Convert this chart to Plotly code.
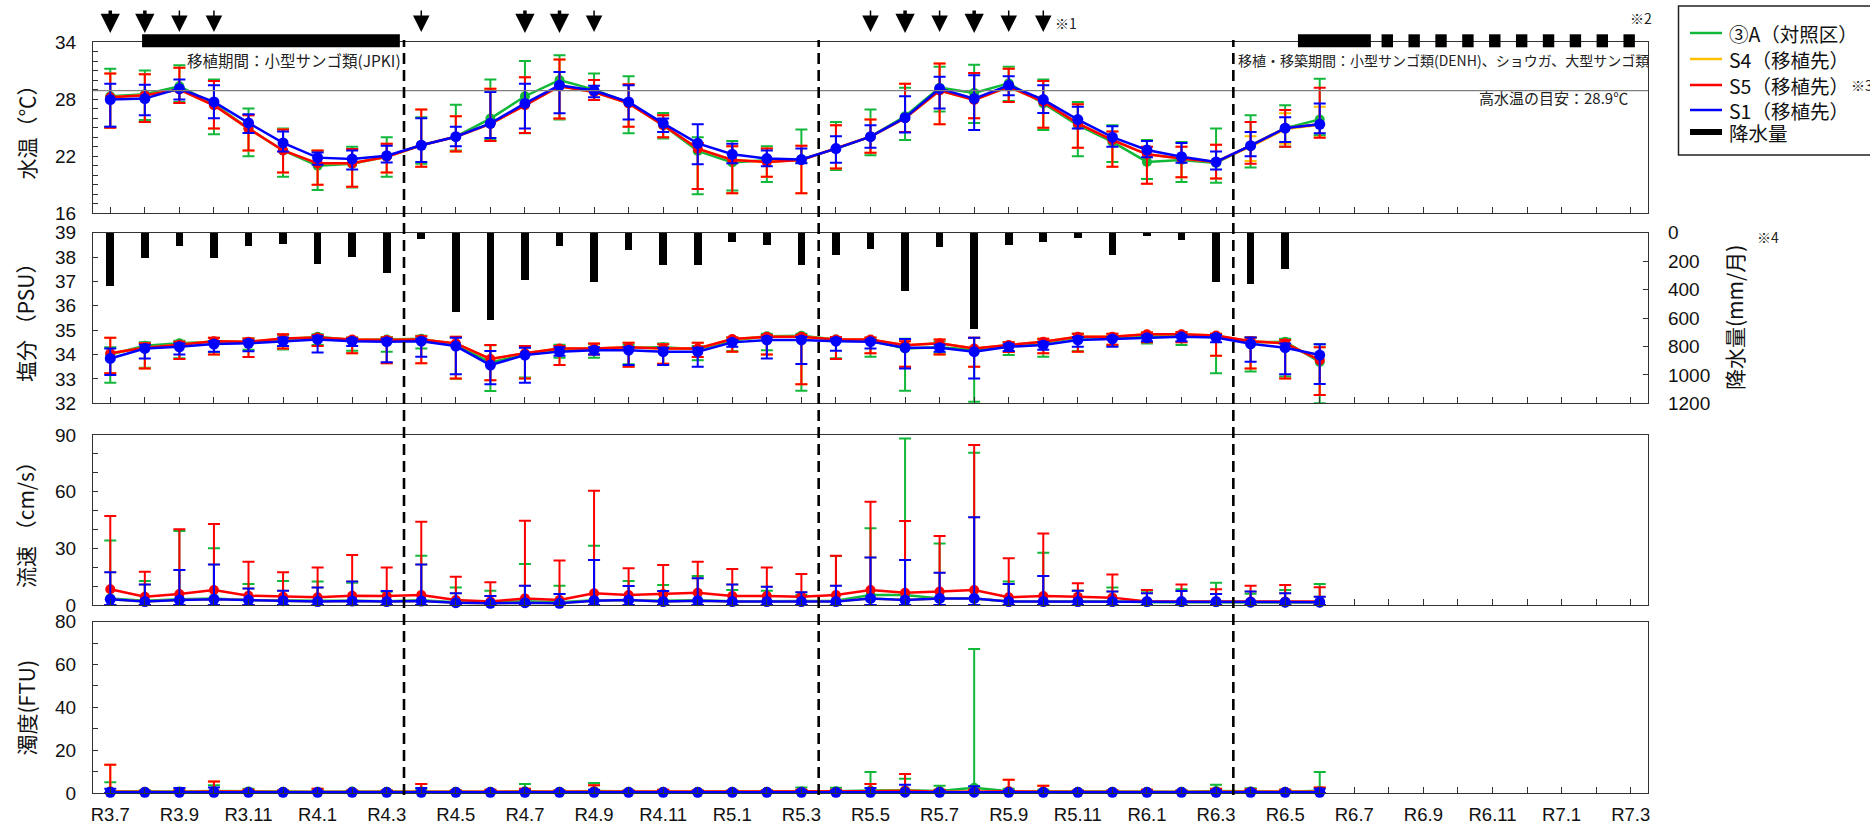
import plotly.graph_objects as go

# ---------------- data ----------------
months = ["R3.7", "R3.8", "R3.9", "R3.10", "R3.11", "R3.12",
          "R4.1", "R4.2", "R4.3", "R4.4", "R4.5", "R4.6", "R4.7", "R4.8", "R4.9", "R4.10", "R4.11", "R4.12",
          "R5.1", "R5.2", "R5.3", "R5.4", "R5.5", "R5.6", "R5.7", "R5.8", "R5.9", "R5.10", "R5.11", "R5.12",
          "R6.1", "R6.2", "R6.3", "R6.4", "R6.5", "R6.6", "R6.7", "R6.8", "R6.9", "R6.10", "R6.11", "R6.12",
          "R7.1", "R7.2", "R7.3"]
tick_labels = ["R3.7", "R3.9", "R3.11", "R4.1", "R4.3", "R4.5", "R4.7", "R4.9", "R4.11", "R5.1", "R5.3",
               "R5.5", "R5.7", "R5.9", "R5.11", "R6.1", "R6.3", "R6.5", "R6.7", "R6.9", "R6.11", "R7.1", "R7.3"]
obs_months = months[:36]
rain_months = months[:35]

# water temperature (deg C): mean / max / min
temp_A = [28.3, 28.5, 29.35, 27.5, 24.9, 22.6, 21.0, 21.2, 21.95, 23.15, 24.05, 25.95, 28.3, 30.0, 29.0, 27.6, 25.25, 22.55,
          21.35, 21.6, 21.65, 22.8, 24.05, 26.2, 29.2, 28.65, 29.65, 27.55, 25.25, 23.5, 21.4, 21.6, 21.3, 23.1, 24.95, 25.85]
temp_A_hi = [31.2, 31.0, 31.55, 30.05, 27.0, 24.9, 22.5, 23.0, 24.0, 26.1, 27.4, 30.05, 32.0, 32.6, 30.7, 30.4, 26.55, 24.0,
             23.6, 23.05, 24.8, 25.6, 26.9, 29.2, 31.4, 31.6, 31.4, 30.05, 27.7, 25.25, 23.7, 23.5, 24.9, 26.3, 27.35, 30.15]
temp_A_lo = [25.1, 25.8, 27.7, 24.3, 22.0, 19.85, 18.45, 18.7, 19.85, 21.2, 22.6, 23.7, 24.4, 25.85, 27.9, 24.4, 23.85, 18.0,
             18.4, 19.3, 21.3, 20.55, 22.1, 23.7, 26.7, 25.5, 27.8, 24.75, 22.0, 21.4, 19.6, 19.3, 19.2, 20.8, 23.0, 24.2]
temp_S4 = [28.2, 28.4, 29.0, 27.35, 24.9, 22.6, 21.25, 21.25, 21.95, 23.15, 24.05, 25.4, 27.35, 29.35, 28.75, 27.55, 25.25, 22.8,
           21.6, 21.4, 21.6, 22.8, 24.05, 26.0, 28.9, 27.9, 29.3, 27.7, 25.45, 23.7, 22.2, 21.75, 21.4, 23.0, 24.85, 25.3]
temp_S4_hi = [30.7, 30.6, 31.3, 29.9, 26.3, 24.8, 22.6, 22.75, 23.3, 26.9, 26.2, 29.1, 30.3, 32.15, 30.0, 29.55, 26.3, 23.4,
              23.05, 22.8, 23.1, 25.25, 25.85, 29.6, 31.75, 30.75, 31.2, 29.9, 27.45, 24.6, 23.0, 23.0, 23.2, 24.1, 26.5, 27.2]
temp_S4_lo = [25.0, 25.6, 27.6, 24.9, 22.6, 20.3, 19.0, 18.8, 20.3, 20.9, 22.5, 23.6, 24.45, 25.95, 27.9, 25.1, 24.0, 18.55,
              18.1, 19.85, 18.1, 20.7, 22.35, 24.55, 25.35, 26.0, 27.7, 25.0, 22.9, 20.9, 19.1, 19.8, 19.65, 21.5, 23.3, 24.0]
temp_S5 = [28.2, 28.4, 29.0, 27.35, 24.9, 22.6, 21.25, 21.25, 21.95, 23.15, 24.05, 25.4, 27.35, 29.35, 28.75, 27.55, 25.25, 22.8,
           21.6, 21.4, 21.6, 22.8, 24.05, 26.0, 28.9, 27.9, 29.3, 27.7, 25.45, 23.7, 22.2, 21.75, 21.4, 23.1, 24.95, 25.35]
temp_S5_hi = [30.7, 30.6, 31.3, 29.9, 26.3, 24.8, 22.6, 22.75, 23.3, 26.9, 26.2, 29.1, 30.3, 32.15, 30.0, 29.55, 26.3, 23.4,
              23.05, 22.8, 23.1, 25.25, 25.85, 29.6, 31.75, 30.75, 31.2, 29.9, 27.45, 24.6, 23.0, 23.0, 23.2, 25.6, 26.85, 29.2]
temp_S5_lo = [25.0, 25.6, 27.6, 24.9, 22.6, 20.3, 19.0, 18.8, 20.3, 20.9, 22.5, 23.6, 24.45, 25.95, 27.9, 25.1, 24.0, 18.55,
              18.1, 19.85, 18.1, 20.7, 22.35, 24.55, 25.35, 26.0, 27.7, 25.0, 22.9, 20.9, 19.1, 19.8, 19.65, 21.2, 23.0, 23.95]
temp_S1 = [27.95, 28.05, 29.1, 27.7, 25.5, 23.4, 21.85, 21.7, 22.05, 23.15, 24.05, 25.45, 27.55, 29.45, 28.9, 27.7, 25.45, 23.35,
           22.2, 21.75, 21.65, 22.8, 24.05, 26.05, 29.1, 28.05, 29.45, 27.95, 25.85, 24.0, 22.65, 21.95, 21.4, 23.1, 24.95, 25.35]
temp_S1_hi = [29.6, 29.5, 30.05, 29.45, 26.4, 24.6, 22.4, 22.6, 23.1, 26.0, 25.1, 28.75, 29.6, 30.85, 29.4, 29.45, 25.95, 25.35,
              23.3, 22.6, 22.8, 24.1, 25.25, 28.3, 30.35, 30.5, 30.4, 29.45, 27.2, 25.15, 23.6, 23.4, 22.5, 24.55, 26.1, 27.55]
temp_S1_lo = [25.1, 26.3, 27.95, 26.0, 24.45, 22.5, 21.1, 20.6, 21.35, 21.4, 23.05, 23.9, 24.9, 26.5, 28.2, 25.85, 24.55, 21.15,
              21.25, 20.95, 21.25, 21.3, 22.9, 24.5, 27.0, 24.75, 28.4, 26.55, 24.9, 23.0, 21.9, 21.3, 20.6, 22.0, 23.5, 24.4]
temp_guide = 28.9

# salinity (PSU): mean / max / min
sal_A = [34.0, 34.36, 34.46, 34.53, 34.5, 34.62, 34.73, 34.6, 34.62, 34.65, 34.4, 33.68, 34.0, 34.2, 34.22, 34.28, 34.3, 34.22,
         34.58, 34.75, 34.77, 34.62, 34.58, 34.25, 34.3, 34.2, 34.36, 34.48, 34.7, 34.7, 34.76, 34.77, 34.75, 34.5, 34.53, 33.7]
sal_A_hi = [34.3, 34.5, 34.57, 34.68, 34.66, 34.8, 34.83, 34.7, 34.72, 34.77, 34.72, 34.38, 34.3, 34.4, 34.42, 34.4, 34.45, 34.35,
            34.7, 34.85, 34.85, 34.72, 34.68, 34.65, 34.55, 34.68, 34.5, 34.62, 34.85, 34.82, 34.9, 34.88, 34.82, 34.7, 34.65, 34.42]
sal_A_lo = [32.84, 33.46, 33.85, 34.1, 34.2, 34.21, 34.39, 34.16, 34.12, 34.25, 33.0, 32.5, 33.06, 33.87, 33.87, 33.6, 33.6, 33.77,
            34.15, 34.18, 32.52, 33.85, 33.91, 32.52, 34.05, 32.06, 33.98, 33.91, 34.15, 34.35, 34.45, 34.39, 33.23, 33.3, 33.1, 32.0]
sal_S4 = [34.05, 34.28, 34.4, 34.55, 34.53, 34.66, 34.7, 34.62, 34.6, 34.62, 34.46, 33.82, 34.05, 34.25, 34.25, 34.3, 34.25, 34.25,
          34.64, 34.73, 34.73, 34.62, 34.62, 34.38, 34.46, 34.25, 34.39, 34.53, 34.73, 34.73, 34.83, 34.83, 34.78, 34.55, 34.46, 33.77]
sal_S4_hi = [34.69, 34.46, 34.53, 34.69, 34.66, 34.83, 34.8, 34.69, 34.7, 34.75, 34.73, 34.39, 34.35, 34.35, 34.45, 34.48, 34.42, 34.48,
             34.7, 34.8, 34.8, 34.72, 34.7, 34.55, 34.62, 34.69, 34.5, 34.65, 34.85, 34.85, 34.9, 34.93, 34.85, 34.7, 34.6, 34.3]
sal_S4_lo = [33.23, 33.43, 33.82, 34.0, 33.9, 34.25, 34.35, 34.05, 33.64, 33.64, 33.02, 32.95, 33.02, 33.57, 34.0, 33.5, 33.62, 33.9,
             34.12, 34.0, 32.78, 33.82, 34.05, 33.5, 34.0, 33.5, 34.1, 34.05, 34.12, 34.4, 34.5, 34.5, 33.95, 33.43, 33.02, 32.34]
sal_S5 = [34.05, 34.28, 34.4, 34.55, 34.53, 34.66, 34.7, 34.62, 34.6, 34.62, 34.46, 33.82, 34.05, 34.25, 34.25, 34.3, 34.25, 34.25,
          34.64, 34.73, 34.73, 34.62, 34.62, 34.38, 34.46, 34.25, 34.39, 34.53, 34.73, 34.73, 34.83, 34.83, 34.78, 34.55, 34.46, 33.77]
sal_S5_hi = [34.69, 34.46, 34.53, 34.69, 34.66, 34.83, 34.8, 34.69, 34.7, 34.75, 34.73, 34.39, 34.35, 34.35, 34.45, 34.48, 34.42, 34.48,
             34.7, 34.8, 34.8, 34.72, 34.7, 34.55, 34.62, 34.69, 34.5, 34.65, 34.85, 34.85, 34.9, 34.93, 34.85, 34.7, 34.6, 34.3]
sal_S5_lo = [33.23, 33.43, 33.82, 34.0, 33.9, 34.25, 34.35, 34.05, 33.64, 33.64, 33.02, 32.95, 33.02, 33.57, 34.0, 33.5, 33.62, 33.9,
             34.12, 34.0, 32.78, 33.82, 34.05, 33.5, 34.0, 33.5, 34.1, 34.05, 34.12, 34.4, 34.5, 34.5, 33.95, 33.43, 33.02, 32.34]
sal_S1 = [33.84, 34.25, 34.32, 34.43, 34.46, 34.55, 34.62, 34.55, 34.53, 34.55, 34.35, 33.57, 33.98, 34.12, 34.18, 34.18, 34.12, 34.12,
          34.5, 34.6, 34.6, 34.55, 34.53, 34.28, 34.28, 34.12, 34.32, 34.39, 34.6, 34.64, 34.69, 34.73, 34.7, 34.44, 34.28, 33.98]
sal_S1_hi = [34.25, 34.4, 34.45, 34.55, 34.58, 34.7, 34.75, 34.65, 34.65, 34.65, 34.69, 34.15, 34.28, 34.3, 34.3, 34.3, 34.28, 34.28,
             34.6, 34.7, 34.72, 34.65, 34.6, 34.64, 34.4, 34.69, 34.42, 34.5, 34.72, 34.72, 34.78, 34.8, 34.8, 34.7, 34.45, 34.42]
sal_S1_lo = [33.16, 33.84, 34.0, 34.12, 34.14, 34.35, 34.08, 34.35, 33.68, 33.91, 33.19, 32.78, 32.84, 33.95, 34.0, 33.57, 33.57, 33.5,
             34.32, 33.84, 33.61, 34.16, 34.25, 33.43, 34.12, 33.02, 34.15, 34.2, 34.32, 34.32, 34.55, 34.55, 34.5, 33.7, 33.19, 32.79]

# monthly precipitation (mm)
rain = [373, 176, 94, 173, 91, 77, 216, 169, 279, 40, 556, 614, 328, 94, 345, 122, 223, 223,
        63, 82, 223, 152, 115, 410, 98, 673, 87, 63, 35, 152, 23, 52, 345, 356, 251]

# current speed (cm/s): mean / max (min is 0)
flow_A = [3.5, 2.2, 3.0, 3.5, 2.5, 2.2, 2.2, 2.2, 2.0, 2.5, 1.5, 1.3, 2.0, 1.5, 2.5, 2.5, 2.2, 2.5,
          2.0, 2.0, 2.0, 2.2, 5.3, 5.3, 3.5, 3.5, 1.8, 2.0, 2.0, 2.0, 1.5, 1.5, 1.5, 1.3, 1.3, 1.3]
flow_A_hi = [34.1, 12.7, 39.2, 30.0, 11.1, 12.7, 12.4, 11.8, 7.0, 26.1, 9.2, 7.6, 21.7, 10.2, 31.4, 12.7, 10.6, 15.4,
             7.9, 7.6, 5.3, 25.9, 40.6, 88.2, 32.6, 80.6, 12.4, 27.7, 7.6, 9.2, 7.6, 8.3, 11.8, 6.0, 7.9, 11.1]
flow_S4 = [3.0, 1.8, 2.6, 3.0, 2.6, 2.3, 1.8, 2.1, 1.8, 2.1, 1.2, 0.9, 1.2, 0.9, 2.3, 2.6, 1.8, 2.3,
           1.8, 1.8, 1.8, 1.8, 3.5, 2.6, 3.5, 3.5, 1.8, 1.8, 1.8, 1.8, 1.8, 1.8, 1.8, 1.5, 1.5, 1.5]
flow_S4_hi = [17.3, 10.9, 18.5, 21.5, 8.8, 7.6, 9.2, 12.4, 7.4, 21.5, 6.2, 4.8, 10.2, 5.8, 23.8, 10.1, 7.4, 14.1,
              10.9, 9.7, 6.7, 10.2, 25.1, 23.8, 17.1, 46.4, 11.1, 15.4, 7.6, 7.1, 6.2, 7.4, 5.8, 7.1, 6.2, 4.4]
flow_S5 = [8.3, 4.4, 5.8, 7.9, 4.9, 4.4, 4.1, 4.9, 4.8, 5.3, 2.6, 1.8, 3.5, 2.6, 6.2, 5.3, 5.8, 6.5,
           4.8, 4.8, 4.4, 5.3, 7.9, 6.5, 7.1, 7.9, 4.1, 4.8, 4.4, 3.9, 1.8, 1.8, 1.8, 1.8, 1.8, 1.8]
flow_S5_hi = [47.1, 17.6, 40.1, 42.9, 22.9, 17.3, 19.8, 26.5, 19.8, 44.1, 15.0, 12.0, 44.6, 23.5, 60.5, 19.4, 21.2, 22.9,
              19.1, 19.8, 16.4, 26.1, 54.7, 44.5, 36.5, 84.7, 24.7, 37.9, 11.5, 16.2, 7.9, 10.9, 8.3, 10.2, 10.6, 9.4]
flow_S1 = [3.0, 1.8, 2.6, 3.0, 2.6, 2.3, 1.8, 2.1, 1.8, 2.1, 1.2, 0.9, 1.2, 0.9, 2.3, 2.6, 1.8, 2.3,
           1.8, 1.8, 1.8, 1.8, 3.5, 2.6, 3.5, 3.5, 1.8, 1.8, 1.8, 1.8, 1.8, 1.8, 1.8, 1.5, 1.5, 1.5]
flow_S1_hi = [17.3, 10.9, 18.5, 21.5, 8.8, 7.6, 9.2, 12.4, 7.4, 21.5, 6.2, 4.8, 10.2, 5.8, 23.8, 10.1, 7.4, 14.1,
              10.9, 9.7, 6.7, 10.2, 25.1, 23.8, 17.1, 46.4, 11.1, 15.4, 7.6, 7.1, 6.2, 7.4, 5.8, 7.1, 6.2, 4.4]

# turbidity (FTU): mean / max (min is 0)
turb_A = [0.8, 0.6, 0.7, 0.9, 0.7, 0.6, 0.6, 0.7, 0.6, 0.7, 0.6, 0.6, 0.8, 0.6, 0.9, 0.6, 0.6, 0.6,
          0.6, 0.6, 0.7, 0.8, 1.2, 1.3, 0.9, 2.4, 0.8, 0.7, 0.6, 0.6, 0.6, 0.6, 0.9, 0.7, 0.6, 1.0]
turb_A_hi = [5.0, 1.2, 1.5, 3.6, 2.0, 1.2, 1.5, 1.2, 1.2, 1.5, 1.2, 1.2, 4.2, 1.2, 4.7, 1.2, 1.2, 1.2,
             1.2, 1.2, 2.6, 2.5, 9.8, 6.7, 3.4, 67.2, 2.0, 1.5, 1.2, 1.2, 1.2, 1.2, 3.9, 2.2, 1.5, 9.8]
turb_S4 = [0.6, 0.5, 0.5, 0.7, 0.5, 0.5, 0.5, 0.5, 0.5, 0.6, 0.5, 0.5, 0.6, 0.5, 0.7, 0.5, 0.5, 0.5,
           0.5, 0.5, 0.5, 0.5, 0.8, 1.0, 0.6, 0.6, 0.8, 0.6, 0.5, 0.5, 0.5, 0.5, 0.6, 0.6, 0.5, 0.6]
turb_S4_hi = [13.2, 1.0, 1.2, 5.4, 1.5, 1.2, 2.0, 1.2, 1.2, 4.2, 1.2, 1.5, 2.0, 1.2, 3.6, 1.2, 1.5, 1.2,
              1.2, 1.2, 1.5, 1.5, 4.2, 8.9, 1.5, 1.5, 6.2, 3.4, 1.2, 1.2, 1.5, 1.2, 2.0, 1.8, 1.5, 2.6]
turb_S5 = [0.6, 0.5, 0.5, 0.7, 0.5, 0.5, 0.5, 0.5, 0.5, 0.6, 0.5, 0.5, 0.6, 0.5, 0.7, 0.5, 0.5, 0.5,
           0.5, 0.5, 0.5, 0.5, 0.8, 1.0, 0.6, 0.6, 0.8, 0.6, 0.5, 0.5, 0.5, 0.5, 0.6, 0.6, 0.5, 0.6]
turb_S5_hi = [13.2, 1.0, 1.2, 5.4, 1.5, 1.2, 2.0, 1.2, 1.2, 4.2, 1.2, 1.5, 2.0, 1.2, 3.6, 1.2, 1.5, 1.2,
              1.2, 1.2, 1.5, 1.5, 4.2, 8.9, 1.5, 1.5, 6.2, 3.4, 1.2, 1.2, 1.5, 1.2, 2.0, 1.8, 1.5, 2.6]
turb_S1 = [0.3, 0.3, 0.3, 0.3, 0.3, 0.3, 0.3, 0.3, 0.3, 0.3, 0.3, 0.3, 0.3, 0.3, 0.3, 0.3, 0.3, 0.3,
           0.3, 0.3, 0.3, 0.3, 0.3, 0.4, 0.3, 0.4, 0.3, 0.3, 0.3, 0.3, 0.3, 0.3, 0.3, 0.3, 0.3, 0.3]
turb_S1_hi = [2.0, 0.8, 2.3, 2.6, 0.8, 0.8, 0.8, 0.8, 0.8, 2.3, 0.8, 0.8, 1.2, 0.8, 1.5, 0.8, 0.8, 0.8,
              0.8, 0.8, 1.0, 1.0, 2.3, 3.9, 1.0, 3.1, 1.0, 0.8, 0.8, 0.8, 0.8, 0.8, 1.2, 1.2, 0.8, 2.0]

# survey events / periods
arrow_big = ["R3.7", "R3.8", "R4.7", "R4.8", "R5.6", "R5.8"]
arrow_small = ["R3.9", "R3.10", "R4.4", "R4.9", "R5.5", "R5.7", "R5.9", "R5.10"]
period_solid = [(0.92, 8.38), (34.37, 36.48)]
period_dashed = (36.79, 44.12)
split_lines = [8.5, 20.5, 32.5]

series_names = ["③A（対照区）", "S4（移植先）", "S5（移植先）", "S1（移植先）"]
series_colors = ["#12b83a", "#ffc000", "#ff0000", "#0000ff"]

# ---------------- figure ----------------
W, H = 1870, 827
ML, MR, MT, MB = 93, 222, 42, 34
PW, PH = W - ML - MR, H - MT - MB


def px(x):  # pixel -> paper x
    return (x - ML) / PW


def py(y):  # pixel -> paper y
    return (H - MB - y) / PH


fig = go.Figure()

TICKFONT = dict(family="Liberation Sans, Arial, sans-serif", size=19, color="#111")
JP = "Noto Sans CJK JP, sans-serif"


def add_series(y, hi, lo, color, xa, ya, size, clip=True):
    fig.add_trace(go.Scatter(
        x=obs_months, y=y, mode="lines+markers", xaxis=xa, yaxis=ya,
        line=dict(color=color, width=2.5),
        marker=dict(color=color, size=size, symbol="circle"),
        error_y=dict(type="data", symmetric=False,
                     array=[h - v for h, v in zip(hi, y)],
                     arrayminus=[v - l for v, l in zip(y, lo)],
                     color=color, thickness=2, width=6),
        cliponaxis=clip, showlegend=False, hoverinfo="skip"))


# precipitation bars (salinity panel, right axis)
fig.add_trace(go.Bar(x=rain_months, y=rain, xaxis="x2", yaxis="y3", width=0.22,
                     marker=dict(color="black", line=dict(width=0)), showlegend=False))

temp_sets = [(temp_A, temp_A_hi, temp_A_lo), (temp_S4, temp_S4_hi, temp_S4_lo),
             (temp_S5, temp_S5_hi, temp_S5_lo), (temp_S1, temp_S1_hi, temp_S1_lo)]
sal_sets = [(sal_A, sal_A_hi, sal_A_lo), (sal_S4, sal_S4_hi, sal_S4_lo),
            (sal_S5, sal_S5_hi, sal_S5_lo), (sal_S1, sal_S1_hi, sal_S1_lo)]
flow_sets = [(flow_A, flow_A_hi), (flow_S4, flow_S4_hi), (flow_S5, flow_S5_hi), (flow_S1, flow_S1_hi)]
turb_sets = [(turb_A, turb_A_hi), (turb_S4, turb_S4_hi), (turb_S5, turb_S5_hi), (turb_S1, turb_S1_hi)]
sizes = [10, 9, 10, 11]

for (y, hi, lo), c, s in zip(temp_sets, series_colors, sizes):
    add_series(y, hi, lo, c, "x", "y", s)
for (y, hi, lo), c, s in zip(sal_sets, series_colors, sizes):
    add_series(y, hi, lo, c, "x2", "y2", s)
for (y, hi), c, s in zip(flow_sets, series_colors, sizes):
    add_series(y, hi, [0] * len(y), c, "x3", "y4", s, clip=False)
for (y, hi), c, s in zip(turb_sets, series_colors, sizes):
    add_series(y, hi, [0] * len(y), c, "x4", "y5", s, clip=False)

LINEC = "#333"
ticktext_all = [m if m in tick_labels else "" for m in months]
xcommon = dict(type="category", categoryorder="array", categoryarray=months, range=[-0.5, 44.5],
               tickmode="array", tickvals=months, ticks="inside", ticklen=6, tickcolor=LINEC,
               showline=True, linecolor=LINEC, linewidth=1.3, mirror=True, showgrid=False, zeroline=False,
               fixedrange=True, automargin=False)
ycommon = dict(ticks="inside", ticklen=5, tickcolor=LINEC, showline=True, linecolor=LINEC, linewidth=1.3,
               mirror=True, showgrid=False, zeroline=False, tickfont=TICKFONT, ticklabelstandoff=12,
               tickmode="linear", automargin=False, fixedrange=True)

dom_temp = [py(213.3), 1.0]
dom_sal = [py(403.3), py(232.7)]
dom_flow = [py(605.0), py(435.0)]
dom_turb = [0.0, py(621.7)]

fig.update_layout(
    width=W, height=H, margin=dict(l=ML, r=MR, t=MT, b=MB, autoexpand=False),
    paper_bgcolor="white", plot_bgcolor="white", showlegend=False, bargap=0,
    xaxis=dict(xcommon, anchor="y", domain=[0, 1], ticktext=[""] * len(months), showticklabels=False),
    xaxis2=dict(xcommon, anchor="y2", domain=[0, 1], ticktext=[""] * len(months), showticklabels=False),
    xaxis3=dict(xcommon, anchor="y4", domain=[0, 1], ticktext=[""] * len(months), showticklabels=False),
    xaxis4=dict(xcommon, anchor="y5", domain=[0, 1], ticktext=ticktext_all,
                tickfont=dict(family="Liberation Sans, Arial, sans-serif", size=18.5, color="#111"),
                ticklabelstandoff=5),
    yaxis=dict(ycommon, domain=dom_temp, anchor="x", range=[16, 34], tick0=16, dtick=6,
               minor=dict(ticks="inside", ticklen=5, dtick=1, tick0=16, tickcolor=LINEC)),
    yaxis2=dict(ycommon, domain=dom_sal, anchor="x2", range=[32, 39], tick0=32, dtick=1),
    yaxis3=dict(ycommon, overlaying="y2", side="right", anchor="x2", range=[1200, 0], tick0=0, dtick=200,
                mirror=False, ticklabelstandoff=15),
    yaxis4=dict(ycommon, domain=dom_flow, anchor="x3", range=[0, 90], tick0=0, dtick=30,
                minor=dict(ticks="inside", ticklen=5, dtick=10, tick0=0, tickcolor=LINEC)),
    yaxis5=dict(ycommon, domain=dom_turb, anchor="x4", range=[0, 80], tick0=0, dtick=20,
                minor=dict(ticks="inside", ticklen=5, dtick=10, tick0=0, tickcolor=LINEC)),
)

shapes = []
# high temperature guide line
shapes.append(dict(type="line", xref="x domain", yref="y", x0=0, x1=1, y0=temp_guide, y1=temp_guide,
                   line=dict(color="#808080", width=1.2)))
# phase separators
for xv in split_lines:
    shapes.append(dict(type="line", xref="x4", yref="paper", x0=xv, x1=xv, y0=py(795), y1=py(40),
                       line=dict(color="black", width=2.6, dash="11px,6px")))
# transplant periods
BT, BB = py(34.3), py(47.3)
for a, b in period_solid:
    shapes.append(dict(type="rect", xref="x", yref="paper", x0=a, x1=b, y0=BB, y1=BT,
                       fillcolor="black", line=dict(width=0)))
n_sq, sq_w = 10, 0.33
pitch = (period_dashed[1] - period_dashed[0] - sq_w) / (n_sq - 1)
for i in range(n_sq):
    a = period_dashed[0] + i * pitch
    shapes.append(dict(type="rect", xref="x", yref="paper", x0=a, x1=a + sq_w, y0=BB, y1=BT,
                       fillcolor="black", line=dict(width=0)))

# legend box (manual)
shapes.append(dict(type="rect", xref="paper", yref="paper", x0=px(1678.5), x1=px(1880), y0=py(155), y1=py(6),
                   line=dict(color="#222", width=1.5), fillcolor="rgba(0,0,0,0)"))
leg_y = [33, 59, 85, 110, 132]
leg_cols = series_colors + ["black"]
leg_w = [2.5, 2.5, 2.5, 2.5, 6]
for yy, c, lw in zip(leg_y, leg_cols, leg_w):
    shapes.append(dict(type="line", xref="paper", yref="paper", x0=px(1690), x1=px(1722), y0=py(yy), y1=py(yy),
                       line=dict(color=c, width=lw)))
fig.update_layout(shapes=shapes)

ann = []
# survey arrows
for m in arrow_big:
    ann.append(dict(x=m, xref="x", y=py(33), yref="paper", text="", showarrow=True, arrowhead=2,
                    arrowsize=1.1, arrowwidth=3.5, arrowcolor="black", ax=0, ay=-24, standoff=0))
for m in arrow_small:
    ann.append(dict(x=m, xref="x", y=py(32), yref="paper", text="", showarrow=True, arrowhead=2,
                    arrowsize=2.2, arrowwidth=1.5, arrowcolor="black", ax=0, ay=-23, standoff=0))

SMALLF = dict(family=JP, size=14, color="#222")
ann += [
    dict(x=px(1066), y=py(23), xref="paper", yref="paper", text="※1", showarrow=False,
         xanchor="center", yanchor="middle", font=SMALLF),
    dict(x=px(1641), y=py(18), xref="paper", yref="paper", text="※2", showarrow=False,
         xanchor="center", yanchor="middle", font=SMALLF),
    dict(x=px(1768), y=py(237), xref="paper", yref="paper", text="※4", showarrow=False,
         xanchor="center", yanchor="middle", font=SMALLF),
    dict(x=px(294), y=py(60), xref="paper", yref="paper", text="移植期間：小型サンゴ類(JPKI)", showarrow=False,
         xanchor="center", yanchor="middle", font=dict(family=JP, size=15.5, color="#222")),
    dict(x=px(1236), y=py(60), xref="paper", yref="paper", xanchor="left", yanchor="middle",
         text="移植・移築期間：小型サンゴ類(DENH)、ショウガ、大型サンゴ類", showarrow=False,
         font=dict(family=JP, size=14, color="#222")),
    dict(x=px(1630), y=py(98), xref="paper", yref="paper", xanchor="right", yanchor="middle",
         text="高水温の目安：28.9℃", showarrow=False, font=dict(family=JP, size=15, color="#222")),
]
# axis titles
TITLEF = dict(family=JP, size=21, color="#111")
for txt, yc in [("水温（℃）", 127.5), ("塩分 （PSU）", 318), ("流速 （cm/s）", 520), ("濁度(FTU)", 707.5)]:
    ann.append(dict(x=px(25), y=py(yc), xref="paper", yref="paper", text=txt, textangle=-90,
                    showarrow=False, font=TITLEF, xanchor="center", yanchor="middle"))
ann.append(dict(x=px(1734), y=py(318), xref="paper", yref="paper", text="降水量(mm/月)", textangle=-90,
                showarrow=False, font=TITLEF, xanchor="center", yanchor="middle"))
# legend texts
for yy, t in zip(leg_y, series_names + ["降水量"]):
    ann.append(dict(x=px(1727), y=py(yy), xref="paper", yref="paper", text=t, xanchor="left", yanchor="middle",
                    height=22, valign="middle", showarrow=False, font=dict(family=JP, size=19.5, color="#111")))
ann.append(dict(x=px(1849), y=py(85), xref="paper", yref="paper", text="※3", xanchor="left", yanchor="middle",
                height=20, showarrow=False, font=dict(family=JP, size=14, color="#222")))
fig.update_layout(annotations=ann)

fig.write_html("out.html", config={"displayModeBar": False},
               post_script="document.body.style.margin='0';document.body.style.overflow='hidden';")
